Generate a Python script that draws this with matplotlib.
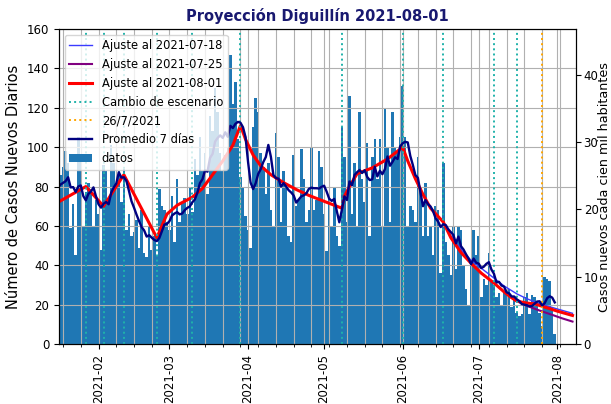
import matplotlib
matplotlib.use("Agg")
import matplotlib.dates as mdates
import matplotlib.pyplot as plt
import pandas as pd

# casos diarios desde 2021-01-10 (lectura aproximada del grafico)
inicio = "2021-01-10"
casos = [
    76,
    84, 92, 78, 95, 70, 62, 86,
    90, 98, 92, 59, 71, 45, 105,
    94, 60, 77, 82, 79, 60, 73,
    66, 48, 91, 88, 71, 101, 92,
    80, 88, 72, 89, 58, 66, 55,
    57, 63, 49, 68, 46, 44, 60,
    48, 55, 45, 79, 70, 68, 62,
    58, 75, 52, 84, 62, 71, 74,
    66, 80, 67, 94, 86, 105, 88,
    97, 76, 116, 108, 130, 118, 97,
    88, 96, 100, 147, 122, 133, 104,
    85, 80, 65, 58, 49, 110, 125,
    118, 97, 90, 76, 92, 68, 60,
    107, 95, 62, 88, 80, 55, 52,
    96, 70, 73, 99, 84, 62, 68,
    100, 68, 73, 98, 90, 66, 47,
    75, 60, 80, 55, 50, 110, 95,
    62, 126, 66, 92, 60, 118, 84,
    72, 102, 55, 95, 104, 84, 104,
    60, 120, 100, 62, 118, 100, 98,
    105, 131, 105, 60, 70, 68, 62,
    95, 80, 55, 82, 55, 60, 45,
    70, 68, 36, 92, 52, 45, 35,
    60, 38, 60, 58, 40, 28, 20,
    40, 58, 45, 55, 24, 33, 30,
    46, 32, 30, 24, 26, 20, 26,
    26, 28, 19, 24, 16, 14, 15,
    24, 26, 15, 25, 24, 22, 16,
    9, 34, 33, 32, 19, 5,
]

# ajuste al 2021-08-01
fechas_0801 = [
    "2021-01-16", "2021-01-27", "2021-02-03", "2021-02-11", "2021-02-24",
    "2021-02-28", "2021-03-04", "2021-03-10", "2021-03-14", "2021-03-18",
    "2021-03-22", "2021-03-26", "2021-03-29", "2021-03-31", "2021-04-03",
    "2021-04-06", "2021-04-10", "2021-04-15", "2021-04-20", "2021-04-25",
    "2021-04-30", "2021-05-04", "2021-05-08", "2021-05-09", "2021-05-11",
    "2021-05-14", "2021-05-20", "2021-05-26", "2021-06-01", "2021-06-03",
    "2021-06-06", "2021-06-09", "2021-06-12", "2021-06-17", "2021-06-20",
    "2021-06-24", "2021-06-28", "2021-07-02", "2021-07-07", "2021-07-11",
    "2021-07-14", "2021-07-16", "2021-07-20", "2021-07-23", "2021-07-27",
    "2021-08-01", "2021-08-07",
]
ajuste_0801 = [
    72, 80, 70, 86, 54,
    66, 70.5, 74.6, 79, 86,
    93, 101, 111, 104, 96,
    90.5, 86, 82, 78.5, 75.5,
    73, 71, 69, 75, 80,
    86.5, 89.5, 94, 100, 93,
    84, 76, 69, 62, 54,
    46.5, 41, 36, 31, 26.5,
    23.5, 21.8, 20.8, 20.4, 18.8,
    16.7, 14.5,
]

# ajuste al 2021-07-18
fechas_0718 = [
    "2021-06-17", "2021-06-20", "2021-06-24", "2021-06-28", "2021-07-02",
    "2021-07-07", "2021-07-11", "2021-07-16", "2021-07-20", "2021-07-25",
    "2021-08-01", "2021-08-07",
]
ajuste_0718 = [62, 55, 48, 42.5, 38.5, 33.5, 29.5, 25.5, 23, 20.5, 17.8, 15.6]

# ajuste al 2021-07-25
fechas_0725 = [
    "2021-07-16", "2021-07-20", "2021-07-25", "2021-07-30", "2021-08-03",
    "2021-08-07",
]
ajuste_0725 = [21.8, 19.4, 17, 14.8, 13, 11.4]

cambios = [
    "2021-01-27", "2021-02-03", "2021-02-11", "2021-02-24", "2021-03-10",
    "2021-03-29", "2021-05-08", "2021-06-01", "2021-06-17", "2021-07-07",
    "2021-07-16",
]
fecha_naranja = "2021-07-26"

factor_100mil = 100000 / 342000

fechas = pd.date_range(inicio, periods=len(casos), freq="D")
promedio = pd.Series(casos, index=fechas).rolling(7).mean()

plt.rcParams["font.size"] = 8.5

fig, ax = plt.subplots(figsize=(6.11, 4.04), dpi=100)
fig.subplots_adjust(left=0.0966, right=0.9427, bottom=0.1485, top=0.928)

ax.plot(pd.to_datetime(fechas_0718), ajuste_0718, color="#3b3bff", lw=1,
        label="Ajuste al 2021-07-18")
ax.plot(pd.to_datetime(fechas_0725), ajuste_0725, color="purple", lw=1.5,
        label="Ajuste al 2021-07-25")
ax.plot(pd.to_datetime(fechas_0801), ajuste_0801, color="red", lw=2.2,
        label="Ajuste al 2021-08-01")
for i, c in enumerate(cambios):
    ax.axvline(pd.Timestamp(c), color="lightseagreen", ls=":", lw=1.4,
               label="Cambio de escenario" if i == 0 else None)
ax.axvline(pd.Timestamp(fecha_naranja), color="orange", ls=":", lw=1.4,
           label="26/7/2021")
ax.plot(promedio.index, promedio.values, color="navy", lw=1.7,
        label="Promedio 7 días")
ax.bar(fechas, casos, width=1, color="#1f77b4", lw=0, label="datos")

ax.set_xlim(pd.Timestamp("2021-01-16 10:00"), pd.Timestamp("2021-08-08 09:00"))
ax.set_ylim(0, 160)
ax.xaxis.set_major_locator(mdates.MonthLocator())
ax.xaxis.set_major_formatter(mdates.DateFormatter("%Y-%m"))
ax.xaxis.set_minor_locator(mdates.WeekdayLocator(byweekday=mdates.MO))
for tick in ax.get_xticklabels():
    tick.set_rotation(90)
ax.grid(which="both")
ax.set_ylabel("Número de Casos Nuevos Diarios", fontsize=10.5)
ax.set_title("Proyección Diguillín 2021-08-01", fontsize=10.5, fontweight="bold",
             color="midnightblue")
ax.legend(loc="upper left", fontsize=8.3)

ax2 = ax.twinx()
ax2.set_ylim(0, 160 * factor_100mil)
ax2.set_yticks([0, 10, 20, 30, 40])
ax2.tick_params(axis="y", pad=2)
ax2.set_ylabel("Casos nuevos cada cien mil habitantes", fontsize=9.2)
ax2.yaxis.set_label_coords(1.042, 0.5)

fig.savefig("out.png", dpi=100)
